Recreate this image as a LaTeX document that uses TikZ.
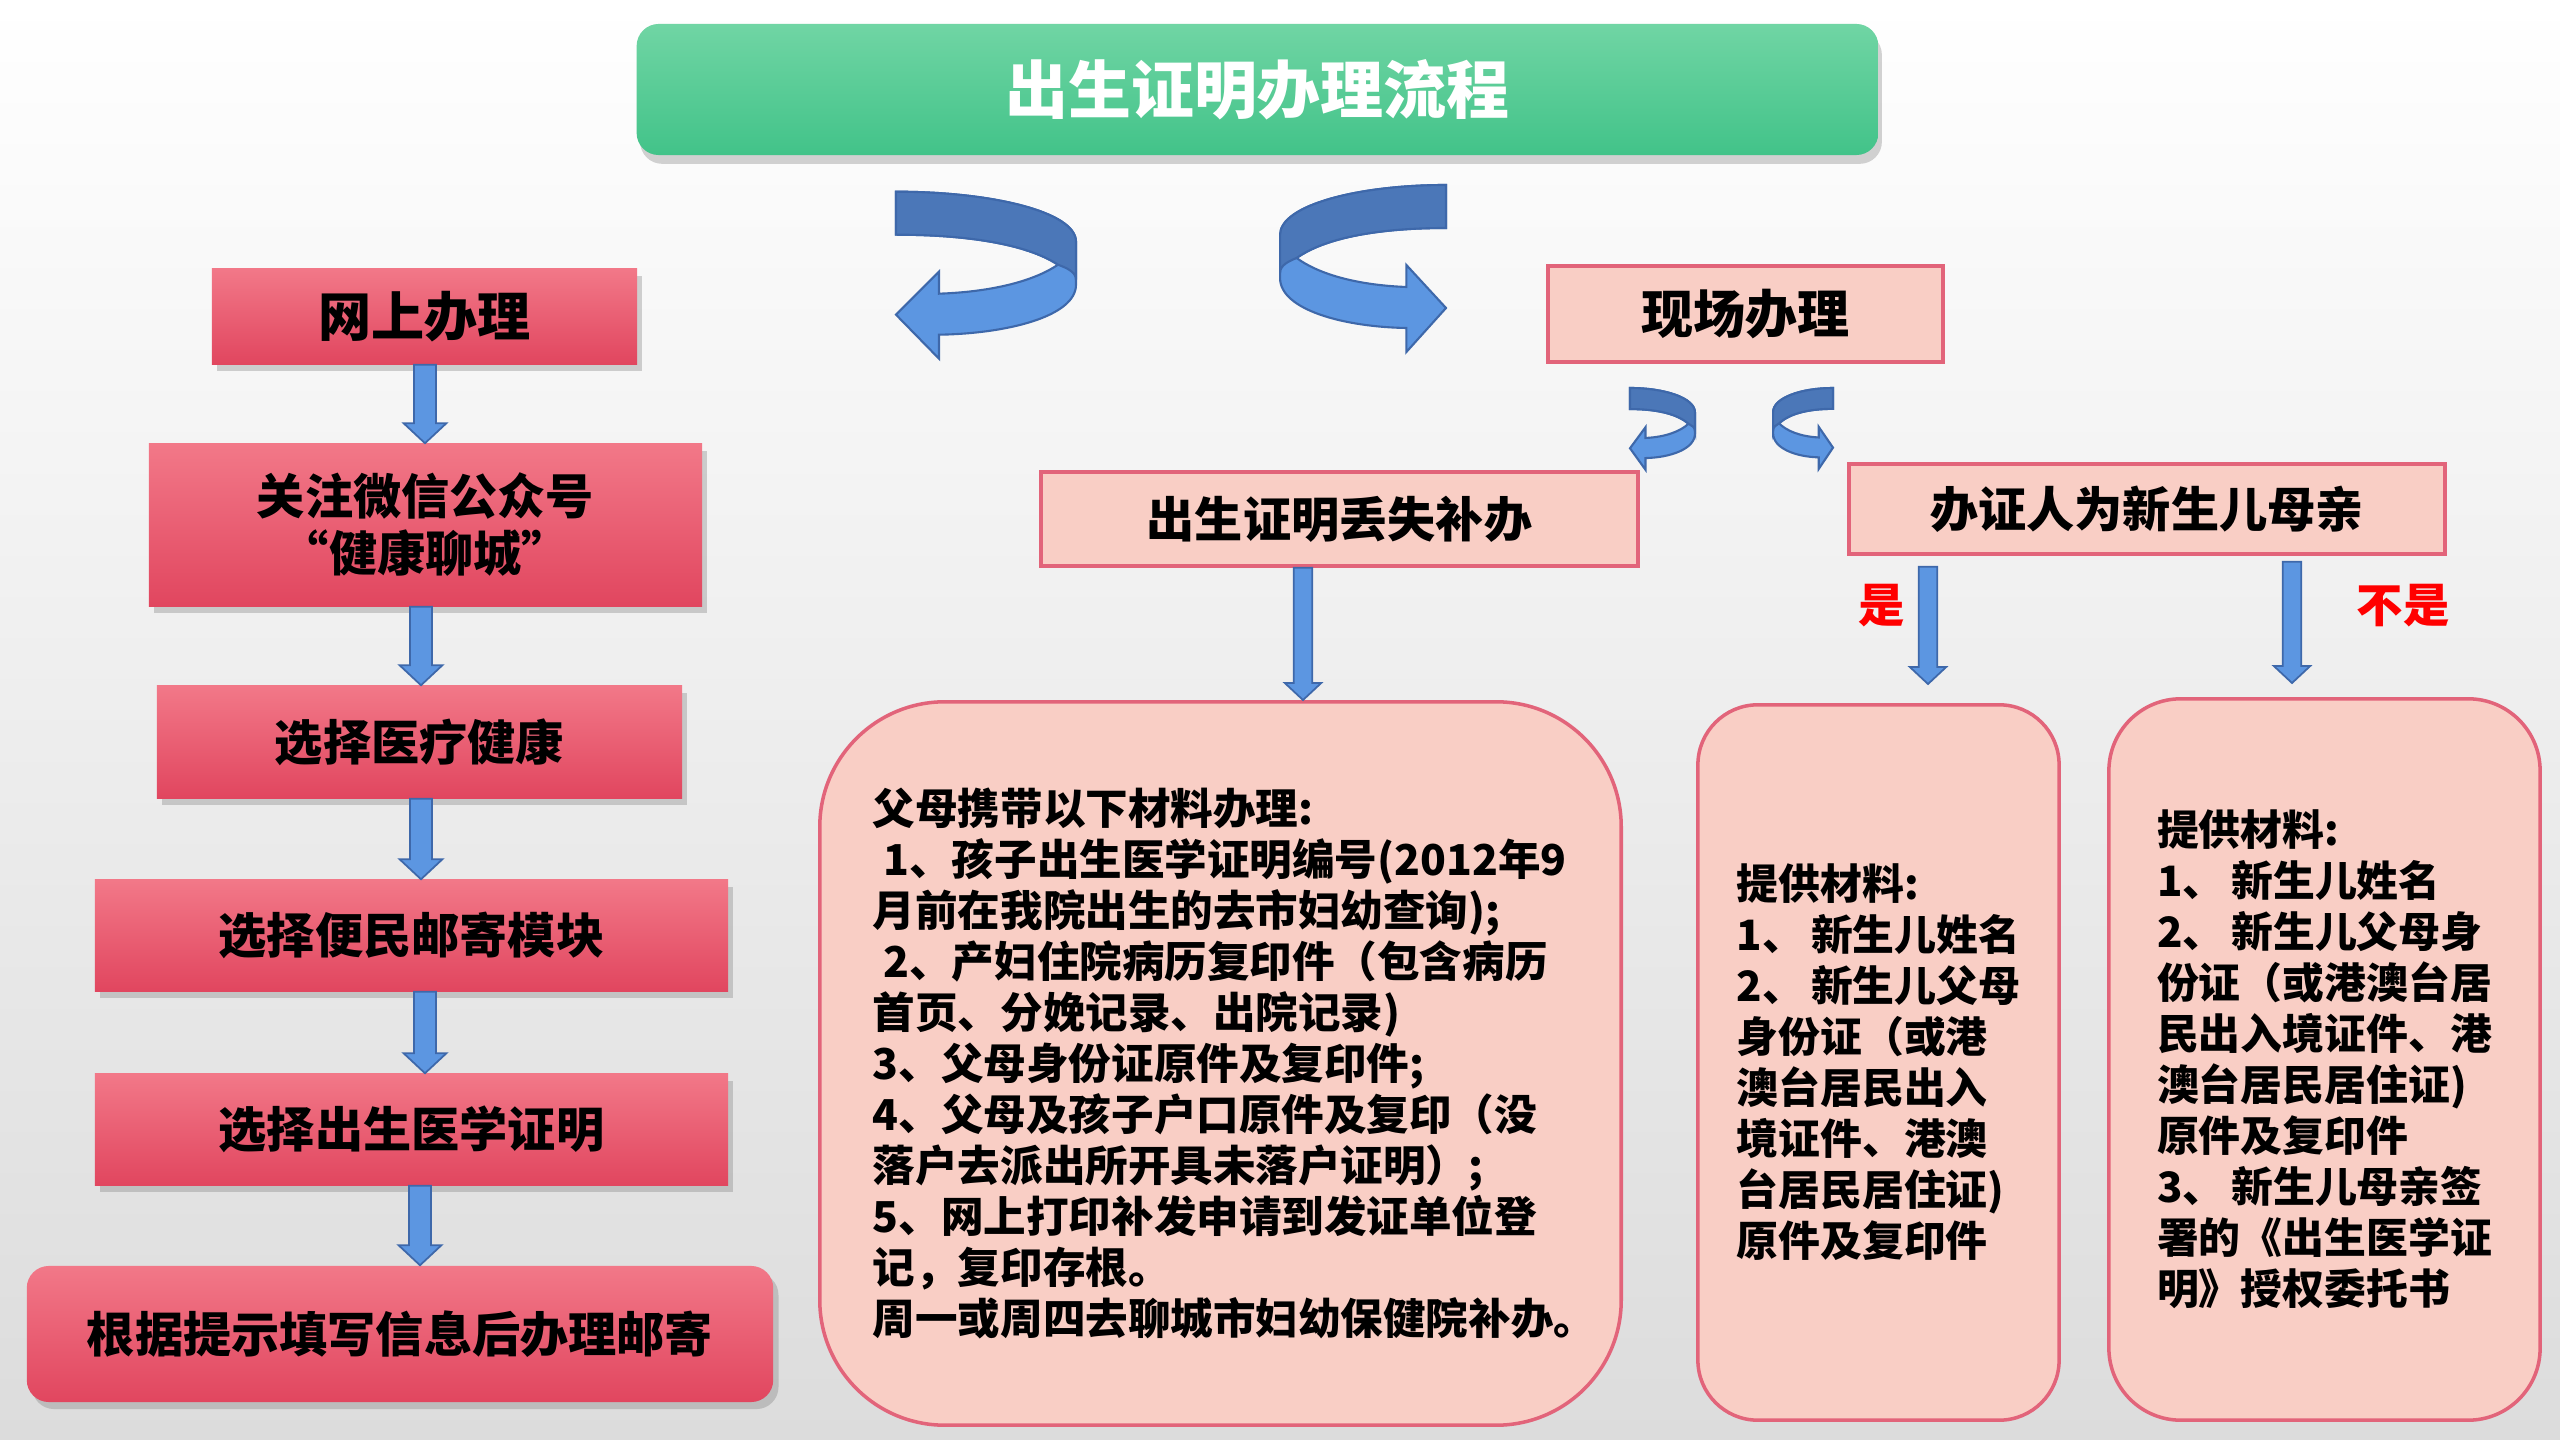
\documentclass[tikz,border=0pt]{standalone}
\usepackage{fontspec}
\setmainfont{Noto Sans CJK SC}
\usetikzlibrary{positioning,calc,shadows}

\definecolor{bgbottom}{RGB}{220,220,220}
\definecolor{greentop}{RGB}{112,213,164}
\definecolor{greenbottom}{RGB}{66,195,137}
\definecolor{redtop}{RGB}{242,120,136}
\definecolor{redbottom}{RGB}{225,70,95}
\definecolor{pinkfill}{RGB}{249,206,197}
\definecolor{pinkedge}{RGB}{226,100,122}
\definecolor{arrowfill}{RGB}{92,150,225}
\definecolor{arrowdark}{RGB}{75,119,184}
\definecolor{arrowedge}{RGB}{62,104,170}
\definecolor{labelred}{RGB}{255,0,0}

% block arrow going down: [size] x, from, to
\newcommand{\blkarrow}[4][1]{%
  \draw[blkarrow] let \p1=(#3), \p2=(#4), \p3=(#2,0) in
    (\x3-3.1pt*#1,\y1) -- (\x3+3.1pt*#1,\y1) -- (\x3+3.1pt*#1,\y2+5.7pt*#1)
    -- (\x3+6.1pt*#1,\y2+5.7pt*#1) -- (\x3,\y2) -- (\x3-6.1pt*#1,\y2+5.7pt*#1)
    -- (\x3-3.1pt*#1,\y2+5.7pt*#1) -- cycle;}

% ribbon arrow turning round
\newcommand{\turnarrow}[1]{%
  \begin{scope}[#1]
    \filldraw[fill=arrowfill, draw=arrowedge, line width=0.6pt]
      (0,0) .. controls (95,0) and (180,20) .. (180,50) -- (180,93)
      .. controls (180,125) and (110,142) .. (43,143) -- (43,167) -- (0,123)
      -- (43,80) -- (43,102) .. controls (100,100) and (140,88) .. (162,73)
      .. controls (130,52) and (70,43) .. (0,43) -- cycle;
    \filldraw[fill=arrowdark, draw=arrowedge, line width=0.6pt]
      (0,0) .. controls (95,0) and (180,20) .. (180,50) -- (180,88)
      .. controls (180,80) and (170,76) .. (162,73)
      .. controls (130,52) and (70,43) .. (0,43) -- cycle;
  \end{scope}}

\tikzset{
  titlebox/.style={rounded corners=0.22cm, top color=greentop, bottom color=greenbottom,
    drop shadow={shadow xshift=1pt, shadow yshift=-2.5pt, opacity=.35},
    text=white, font=\fontsize{17.9pt}{20pt}\selectfont\bfseries},
  redbox/.style={top color=redtop, bottom color=redbottom,
    drop shadow={shadow xshift=1.5pt, shadow yshift=-2pt, opacity=.35},
    align=center, font=\fontsize{13.7pt}{16.2pt}\selectfont\bfseries},
  pinkbox/.style={draw=pinkedge, line width=1pt, fill=pinkfill, align=center,
    font=\fontsize{13.7pt}{16pt}\selectfont\bfseries},
  infobox/.style={pinkbox, align=left, font=\fontsize{11.9pt}{14.5pt}\selectfont\bfseries},
  infotext/.style={align=left, font=\fontsize{12.1pt}{14.5pt}\selectfont\bfseries},
  answer/.style={text=labelred, font=\fontsize{13.2pt}{15pt}\selectfont\bfseries},
  blkarrow/.style={fill=arrowfill, draw=arrowedge, line width=0.5pt}
}

\begin{document}
\begin{tikzpicture}[x=0.01cm, y=-0.01cm]
% fond
\shade[top color=white, bottom color=bgbottom] (0,0) rectangle (2560,1440);
\useasboundingbox (0,0) rectangle (2560,1440);

\node[titlebox, minimum width=12.41cm, minimum height=1.31cm] (title) at (1257.5,89.5) {出生证明办理流程};

% colonna online
\node[redbox, minimum width=4.25cm, minimum height=0.95cm, font=\fontsize{15.1pt}{17pt}\selectfont\bfseries] (online) at (424.5,316.5) {网上办理};
\node[redbox, minimum width=5.53cm, minimum height=1.62cm] (wechat) at (425.5,525) {关注微信公众号\\“健康聊城”};
\node[redbox, minimum width=5.25cm, minimum height=1.12cm] (health) at (419.5,742) {选择医疗健康};
\node[redbox, minimum width=6.33cm, minimum height=1.11cm] (mail) at (411.5,935.5) {选择便民邮寄模块};
\node[redbox, minimum width=6.33cm, minimum height=1.11cm] (cert) at (411.5,1129.5) {选择出生医学证明};
\node[redbox, rounded corners=0.22cm, minimum width=7.46cm, minimum height=1.36cm] (post) at (400,1334) {根据提示填写信息后办理邮寄};

\blkarrow{425}{online.south}{wechat.north}
\blkarrow{421}{wechat.south}{health.north}
\blkarrow{421}{health.south}{mail.north}
\blkarrow{425}{mail.south}{cert.north}
\blkarrow{420}{cert.south}{post.north}

% colonna sul posto
\node[pinkbox, minimum width=3.95cm, minimum height=0.96cm, font=\fontsize{14.8pt}{17pt}\selectfont\bfseries] (onsite) at (1745.5,314) {现场办理};
\node[pinkbox, minimum width=5.97cm, minimum height=0.94cm] (lost) at (1339.5,519) {出生证明丢失补办};
\node[pinkbox, minimum width=5.96cm, minimum height=0.90cm] (mother) at (2147,509) {办证人为新生儿母亲};

\node[infobox, rounded corners=1.25cm, minimum width=8.01cm, minimum height=7.23cm] (lostinfo) at (1220.5,1063.5) {};
\node[infotext] (losttext) at (1234.5,1063.5) {父母携带以下材料办理:\\
\hspace*{0.25em}1、孩子出生医学证明编号(2012年9\\
月前在我院出生的去市妇幼查询);\\
\hspace*{0.25em}2、产妇住院病历复印件（包含病历\\
首页、分娩记录、出院记录)\\
3、父母身份证原件及复印件;\\
4、父母及孩子户口原件及复印（没\\
落户去派出所开具未落户证明）;\\
5、网上打印补发申请到发证单位登\\
记，复印存根。\\
周一或周四去聊城市妇幼保健院补办。};
\node[infobox, rounded corners=0.6cm, minimum width=3.61cm, minimum height=7.15cm] (yesinfo) at (1878.5,1062.5) {提供材料:\\1、\,新生儿姓名\\2、\,新生儿父母\\身份证（或港\\澳台居民出入\\境证件、港澳\\台居民居住证)\\原件及复印件};
\node[infobox, rounded corners=0.72cm, minimum width=4.31cm, minimum height=7.21cm] (noinfo) at (2324.5,1059.5) {提供材料:\\1、\,新生儿姓名\\2、\,新生儿父母身\\份证（或港澳台居\\民出入境证件、港\\澳台居民居住证)\\原件及复印件\\3、\,新生儿母亲签\\署的《出生医学证\\明》授权委托书};

\node[answer] (yes) at (1882,606) {是};
\node[answer] (no) at (2403,606) {不是};

\blkarrow[0.85]{1303}{lost.south}{lostinfo.north}
\blkarrow[0.85]{1928}{$(mother.south)+(0,11)$}{$(yesinfo.north)+(0,-19)$}
\blkarrow[0.85]{2292}{$(mother.south)+(0,6)$}{$(noinfo.north)+(0,-14)$}

% frecce curve
\turnarrow{shift={(896,191.7)}}
\turnarrow{shift={(1446,185)}, xscale=-0.922}
\turnarrow{shift={(1630,388)}, xscale=0.361, yscale=0.49}
\turnarrow{shift={(1833,388)}, xscale=-0.333, yscale=0.485}
\end{tikzpicture}
\end{document}
